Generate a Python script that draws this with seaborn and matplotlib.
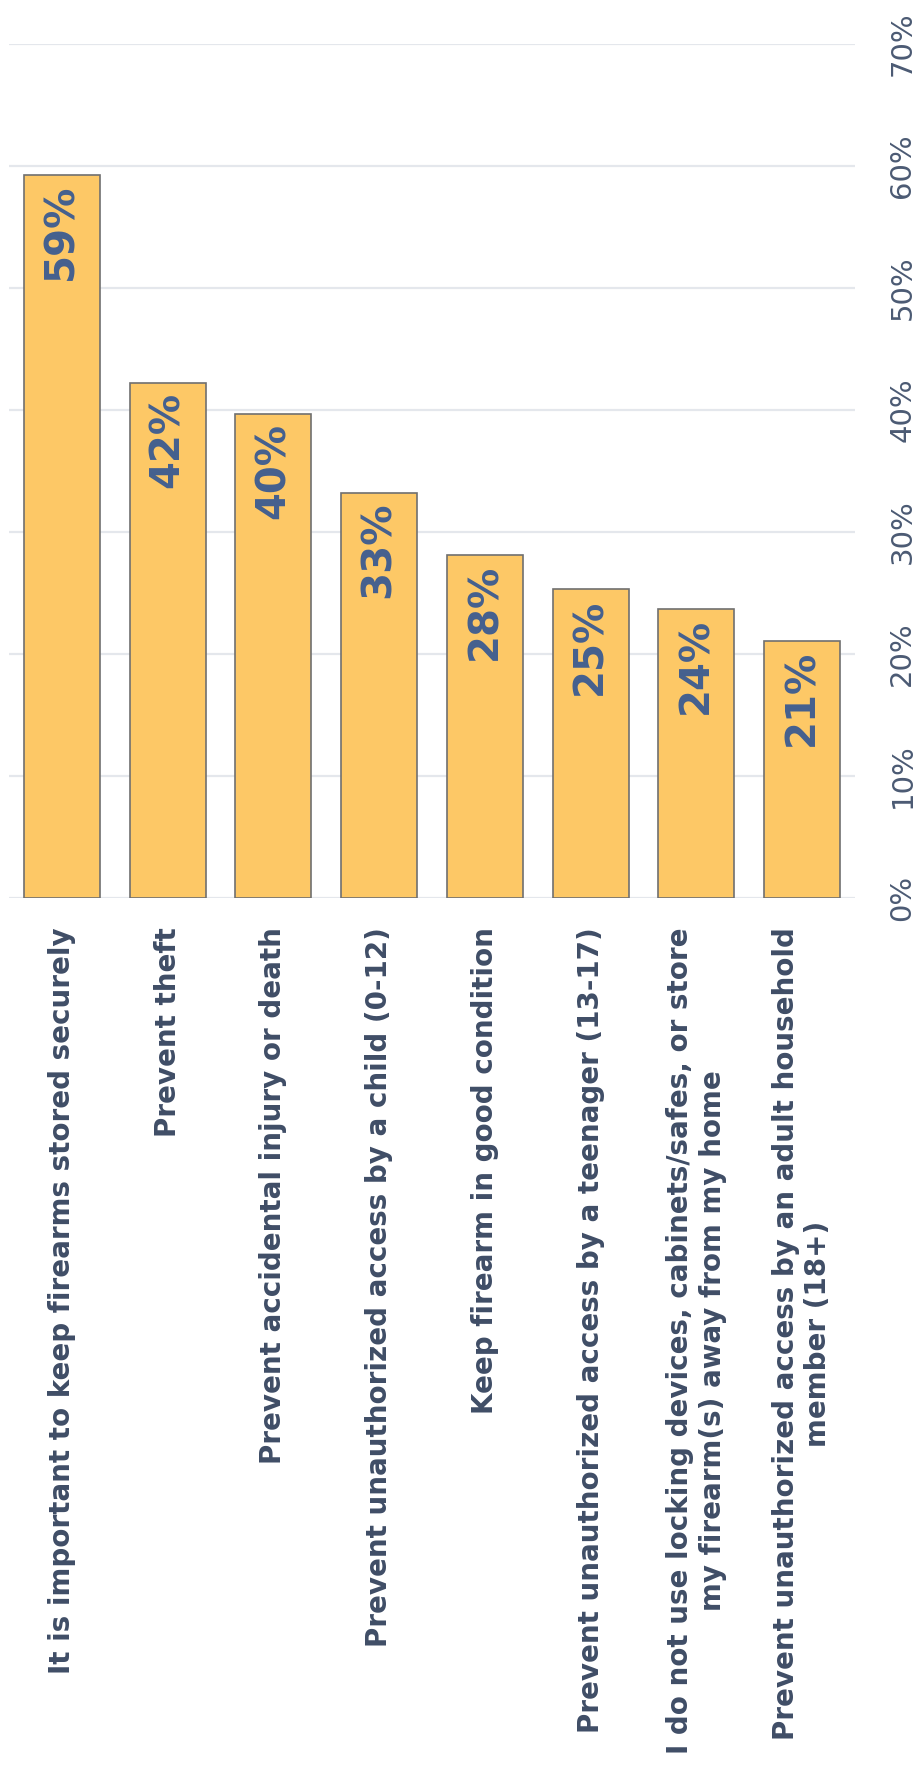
import matplotlib
matplotlib.use("Agg")
import matplotlib.pyplot as plt
import seaborn as sns
import pandas as pd

# Reasons for using locking devices / safe storage (share of respondents, %)
categories = [
    "It is important to keep firearms stored securely",
    "Prevent theft",
    "Prevent accidental injury or death",
    "Prevent unauthorized access by a child (0-12)",
    "Keep firearm in good condition",
    "Prevent unauthorized access by a teenager (13-17)",
    "I do not use locking devices, cabinets/safes, or store\nmy firearm(s) away from my home",
    "Prevent unauthorized access by an adult household\nmember (18+)",
]
values = [59.3, 42.2, 39.7, 33.2, 28.1, 25.3, 23.7, 21.1]
y_ticks = [0, 10, 20, 30, 40, 50, 60, 70]
y_tick_labels = [f"{t}%" for t in y_ticks]

BAR_COLOR = "#FDC866"
EDGE_COLOR = "#707070"
VALUE_COLOR = "#44608F"
CAT_COLOR = "#3F4D66"
TICK_COLOR = "#4B5A73"
GRID_COLOR = "#E4E7EC"

sns.set_theme(style="white")
plt.rcParams["font.family"] = ["DejaVu Sans"]

df = pd.DataFrame({"reason": categories, "share": values})

fig = plt.figure(figsize=(9.16, 17.82), dpi=100)
fig.patch.set_facecolor("white")
ax = fig.add_axes([9 / 916, 1 - 898 / 1782, 846 / 916, (898 - 44) / 1782])

sns.barplot(
    data=df, x="reason", y="share", color=BAR_COLOR, saturation=1,
    edgecolor=EDGE_COLOR, linewidth=1.2, width=0.72, ax=ax,
)

ax.set_xlim(-0.5, len(categories) - 0.5)
ax.set_ylim(0, 70)
ax.set_yticks(y_ticks)
ax.set_yticklabels(y_tick_labels)
ax.yaxis.tick_right()
ax.tick_params(axis="y", length=0, pad=24, labelsize=21, labelcolor=TICK_COLOR)
for lab in ax.get_yticklabels():
    lab.set_rotation(90)
    lab.set_va("center")

ax.set_xticks(range(len(categories)))
ax.set_xticklabels(categories, rotation=90, ha="center", va="top",
                   multialignment="center", fontsize=20, fontweight="bold",
                   color=CAT_COLOR, linespacing=1.2)
ax.tick_params(axis="x", length=0, pad=21)

ax.set_xlabel("")
ax.set_ylabel("")
ax.grid(axis="y", color=GRID_COLOR, linewidth=1.6)
ax.grid(axis="x", visible=False)
ax.set_axisbelow(True)
for s in ax.spines.values():
    s.set_visible(False)

# value labels inside the top of each bar
for i, v in enumerate(values):
    ax.annotate(f"{round(v)}%", xy=(i, v), xytext=(0, -6.5),
                textcoords="offset points", rotation=90,
                ha="center", va="top", fontsize=29, fontweight="bold",
                color=VALUE_COLOR)

fig.savefig("out.png", dpi=100, facecolor="white")
